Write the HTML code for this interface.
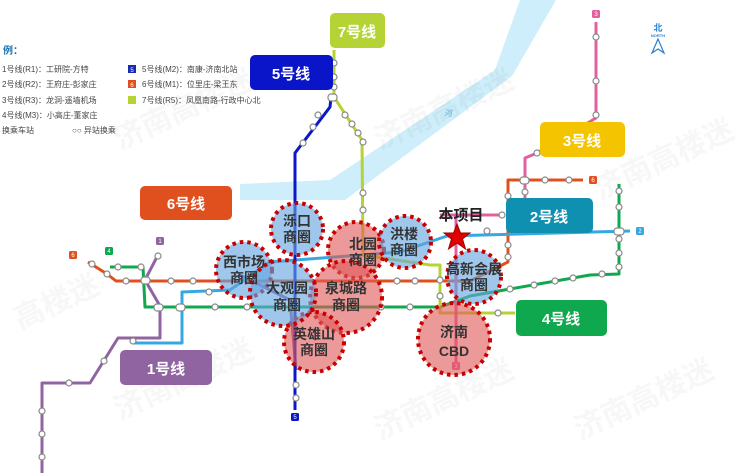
<!DOCTYPE html>
<html><head><meta charset="utf-8"><style>
html,body{margin:0;padding:0;background:#fff;}
svg{display:block;font-family:"Liberation Sans","Noto Sans CJK SC",sans-serif;}
.st{fill:#fff;stroke:#888;stroke-width:1.2}
.lb{font-weight:bold;fill:#fff;font-size:15px;text-anchor:middle}
.ct{font-weight:bold;fill:#333;font-size:14px;text-anchor:middle}
.lg{font-size:8px;fill:#444}
</style></head><body>
<svg width="740" height="473" viewBox="0 0 740 473" xmlns="http://www.w3.org/2000/svg">
<rect width="740" height="473" fill="#fff"/>
<polygon points="520,0 556,0 512,76 345,200 240,200 240,184 330,180 495,70" fill="#cdeefa"/>
<text x="444" y="116" font-size="8" fill="#6aaccc" font-style="italic">河</text>
<g fill="#000" opacity="0.035" font-size="30" font-weight="bold">
<text x="120" y="150" transform="rotate(-25 120 150)">济南高楼迷</text>
<text x="380" y="150" transform="rotate(-25 380 150)">济南高楼迷</text>
<text x="600" y="200" transform="rotate(-25 600 200)">济南高楼迷</text>
<text x="20" y="330" transform="rotate(-25 20 330)">高楼迷</text>
<text x="120" y="420" transform="rotate(-25 120 420)">济南高楼迷</text>
<text x="380" y="440" transform="rotate(-25 380 440)">济南高楼迷</text>
<text x="580" y="440" transform="rotate(-25 580 440)">济南高楼迷</text>
</g>
<text x="3" y="54" font-size="10" font-weight="bold" fill="#1a6fb0">例：</text>
<text x="2" y="72" class="lg">1号线(R1)：工研院-方特</text>
<text x="2" y="87" class="lg">2号线(R2)：王府庄-彭家庄</text>
<text x="2" y="103" class="lg">3号线(R3)：龙洞-遥墙机场</text>
<text x="2" y="118" class="lg">4号线(M3)：小高庄-董家庄</text>
<text x="2" y="133" class="lg">换乘车站</text>
<text x="72" y="133" class="lg">○○ 异站换乘</text>
<rect x="128" y="65" width="8" height="8" fill="#1a2ab0"/><text x="132" y="72" font-size="6" fill="#fff" text-anchor="middle">5</text>
<rect x="128" y="80" width="8" height="8" fill="#e0501e"/><text x="132" y="87" font-size="6" fill="#fff" text-anchor="middle">6</text>
<rect x="128" y="96" width="8" height="8" fill="#b5d334"/>
<text x="142" y="72" class="lg">5号线(M2)：南康-济南北站</text>
<text x="142" y="87" class="lg">6号线(M1)：位里庄-梁王东</text>
<text x="142" y="103" class="lg">7号线(R5)：凤凰南路-行政中心北</text>
<text x="658" y="31" font-size="9" font-weight="bold" fill="#2a7fd0" text-anchor="middle">北</text>
<text x="658" y="37" font-size="4" font-weight="bold" fill="#2a7fd0" text-anchor="middle">NORTH</text>
<path d="M658,39 L652,53 L658,49 L664,53 Z" fill="none" stroke="#2a7fd0" stroke-width="1.2"/>
<g fill="none" stroke-width="3" stroke-linejoin="round">
<polyline stroke="#9064a0" points="159,253 145,280 160,306 160,338 118,338 90,383 42,383 42,473"/>
<polyline stroke="#9064a0" points="240,275 290,300 296,370"/>
<polyline stroke="#e0501e" points="88,262 107,274 116,281 470,281 508,262 508,180 583,180"/>
<polyline stroke="#10a84e" points="110,267 143,267 145,307 440,307 470,296 590,275 619,274 619,184"/>
<polyline stroke="#35a8e0" points="133,343 182,343 182,292 230,290 270,262 400,252 447,236 630,231"/>
<polyline stroke="#0a18c8" points="331,97 330,107 295,153 295,410"/>
<polyline stroke="#b5d334" points="334,50 334,97 362,140 363,255 430,265 440,265 440,313 515,313"/>
<polyline stroke="#e060a0" points="596,22 596,118 537,153 525,158 525,205"/>
<polyline stroke="#e060a0" points="440,215 505,215"/>
<polyline stroke="#e060a0" points="456,215 456,365"/>
</g>
<g class="st">
<circle cx="92" cy="264" r="3"/><circle cx="107" cy="274" r="3"/><circle cx="126" cy="281" r="3"/>
<circle cx="118" cy="267" r="3"/><circle cx="141" cy="267" r="3"/>
<rect x="141" y="277" width="9" height="7" rx="3"/><circle cx="158" cy="256" r="3"/>
<circle cx="171" cy="281" r="3"/><circle cx="193" cy="281" r="3"/><circle cx="209" cy="292" r="3"/>
<rect x="154" y="304" width="9" height="7" rx="3"/><rect x="176" y="304" width="9" height="7" rx="3"/>
<circle cx="215" cy="307" r="3"/><circle cx="247" cy="307" r="3"/>
<circle cx="133" cy="341" r="3"/><circle cx="104" cy="361" r="3"/><circle cx="69" cy="383" r="3"/>
<circle cx="42" cy="411" r="3"/><circle cx="42" cy="434" r="3"/><circle cx="42" cy="457" r="3"/>
<circle cx="318" cy="115" r="3"/><circle cx="313" cy="127" r="3"/><circle cx="303" cy="143" r="3"/>
<circle cx="334" cy="63" r="3"/><circle cx="334" cy="77" r="3"/><circle cx="334" cy="87" r="3"/>
<rect x="328" y="94" width="9" height="7" rx="3"/>
<circle cx="345" cy="115" r="3"/><circle cx="352" cy="124" r="3"/><circle cx="358" cy="133" r="3"/>
<circle cx="363" cy="142" r="3"/><circle cx="363" cy="193" r="3"/><circle cx="363" cy="210" r="3"/>
<circle cx="296" cy="385" r="3"/><circle cx="296" cy="398" r="3"/>
<circle cx="596" cy="37" r="3"/><circle cx="596" cy="81" r="3"/><circle cx="596" cy="115" r="3"/>
<circle cx="537" cy="153" r="3"/><circle cx="525" cy="192" r="3"/>
<rect x="520" y="177" width="9" height="7" rx="3"/><circle cx="545" cy="180" r="3"/><circle cx="569" cy="180" r="3"/>
<circle cx="508" cy="196" r="3"/><circle cx="502" cy="215" r="3"/>
<circle cx="487" cy="231" r="3"/><circle cx="508" cy="245" r="3"/><circle cx="508" cy="257" r="3"/>
<circle cx="619" cy="191" r="3"/><circle cx="619" cy="207" r="3"/><rect x="614" y="228" width="10" height="7" rx="3"/>
<circle cx="619" cy="239" r="3"/><circle cx="619" cy="253" r="3"/><circle cx="619" cy="267" r="3"/>
<circle cx="602" cy="274" r="3"/><circle cx="573" cy="278" r="3"/><circle cx="555" cy="281" r="3"/>
<circle cx="534" cy="285" r="3"/><circle cx="510" cy="289" r="3"/><circle cx="498" cy="313" r="3"/>
<circle cx="397" cy="281" r="3"/><circle cx="415" cy="281" r="3"/><circle cx="381" cy="307" r="3"/><circle cx="410" cy="307" r="3"/>
<circle cx="440" cy="280" r="3"/><circle cx="440" cy="296" r="3"/>
</g>
<g font-size="6" fill="#fff" text-anchor="middle">
<rect x="69" y="251" width="8" height="8" rx="1.5" fill="#e0501e"/><text x="73" y="257">6</text>
<rect x="105" y="247" width="8" height="8" rx="1.5" fill="#10a84e"/><text x="109" y="253">4</text>
<rect x="156" y="237" width="8" height="8" rx="1.5" fill="#9064a0"/><text x="160" y="243">1</text>
<rect x="291" y="413" width="8" height="8" rx="1.5" fill="#0a18c8"/><text x="295" y="419">5</text>
<rect x="636" y="227" width="8" height="8" rx="1.5" fill="#35a8e0"/><text x="640" y="233">2</text>
<rect x="592" y="10" width="8" height="8" rx="1.5" fill="#e060a0"/><text x="596" y="16">3</text>
<rect x="589" y="176" width="8" height="8" rx="1.5" fill="#e0501e"/><text x="593" y="182">6</text>
<rect x="452" y="362" width="8" height="8" rx="1.5" fill="#e060a0"/><text x="456" y="368">3</text>
</g>
<rect x="330" y="13" width="55" height="35" rx="5" fill="#b5d334"/><text x="357" y="37" class="lb">7号线</text>
<rect x="250" y="55" width="83" height="35" rx="5" fill="#0a14c8"/><text x="291" y="79" class="lb">5号线</text>
<rect x="140" y="186" width="92" height="34" rx="5" fill="#e0501e"/><text x="186" y="209" class="lb">6号线</text>
<rect x="540" y="122" width="85" height="35" rx="5" fill="#f5c400"/><text x="582" y="146" class="lb">3号线</text>
<rect x="506" y="198" width="87" height="35" rx="5" fill="#1090b0"/><text x="549" y="222" class="lb">2号线</text>
<rect x="516" y="300" width="91" height="36" rx="5" fill="#10a84e"/><text x="561" y="324" class="lb">4号线</text>
<rect x="120" y="350" width="92" height="35" rx="5" fill="#9064a0"/><text x="166" y="374" class="lb">1号线</text>
<g stroke="#c80000" stroke-width="4" stroke-dasharray="3.5 4">
<circle cx="356" cy="250" r="28" fill="rgba(225,90,90,0.62)"/>
<circle cx="346" cy="297" r="36" fill="rgba(225,90,90,0.62)"/>
<circle cx="314" cy="342" r="30" fill="rgba(225,90,90,0.62)"/>
<circle cx="454" cy="339" r="36" fill="rgba(225,90,90,0.62)"/>
<circle cx="297" cy="229" r="26" fill="rgba(100,165,225,0.62)"/>
<circle cx="244" cy="270" r="28" fill="rgba(100,165,225,0.62)"/>
<circle cx="283" cy="293" r="33" fill="rgba(100,165,225,0.62)"/>
<circle cx="405" cy="242" r="26" fill="rgba(100,165,225,0.62)"/>
<circle cx="474" cy="277" r="27" fill="rgba(100,165,225,0.62)"/>
</g>
<polygon points="457,224 460.5,233 470,233 462.5,239 465.5,249 457,243 448.5,249 451.5,239 444,233 453.5,233" fill="#e00000" stroke="#900" stroke-width="1"/>
<text x="461" y="220" font-size="15" font-weight="bold" fill="#222" text-anchor="middle">本项目</text>
<text x="297" y="226" class="ct">泺口</text><text x="297" y="242" class="ct">商圈</text>
<text x="244" y="267" class="ct">西市场</text><text x="244" y="283" class="ct">商圈</text>
<text x="287" y="293" class="ct" font-size="16">大观园</text><text x="287" y="310" class="ct" font-size="16">商圈</text>
<text x="363" y="249" class="ct">北园</text><text x="363" y="265" class="ct">商圈</text>
<text x="404" y="239" class="ct">洪楼</text><text x="404" y="255" class="ct">商圈</text>
<text x="346" y="293" class="ct" font-size="16">泉城路</text><text x="346" y="310" class="ct" font-size="16">商圈</text>
<text x="314" y="339" class="ct">英雄山</text><text x="314" y="355" class="ct">商圈</text>
<text x="474" y="274" class="ct">高新会展</text><text x="474" y="290" class="ct">商圈</text>
<text x="454" y="337" class="ct" font-size="17">济南</text><text x="454" y="356" class="ct" font-size="17">CBD</text>
</svg>
</body></html>
